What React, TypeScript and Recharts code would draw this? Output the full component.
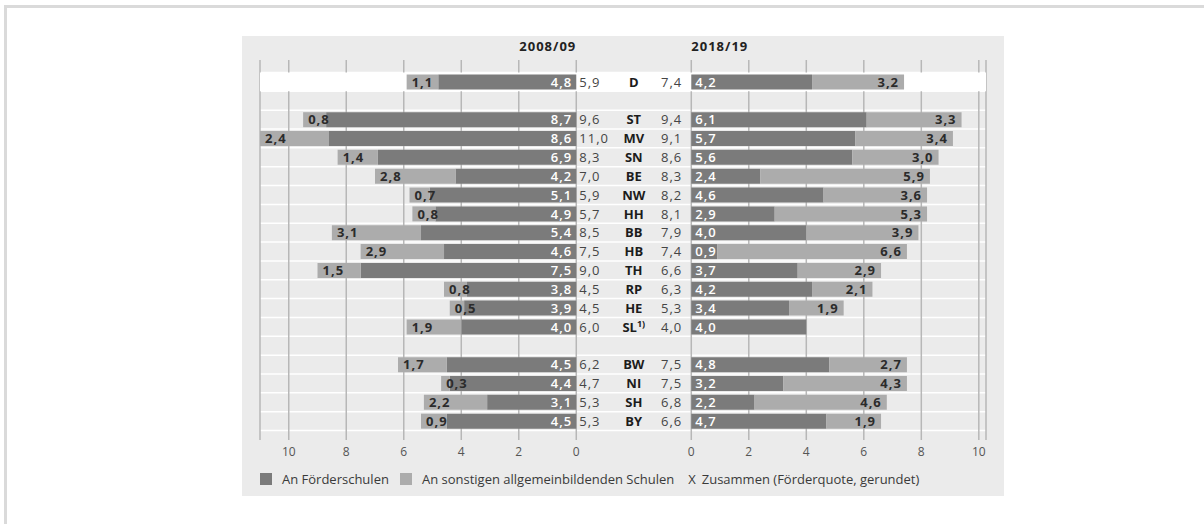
import { BarChart, Bar, XAxis, YAxis, CartesianGrid, ReferenceArea, LabelList, Legend } from 'recharts';

const FONT = '"Open Sans", "Noto Sans", sans-serif';

// Förderquote je Land, in Prozent
const codes = ['D', '', 'ST', 'MV', 'SN', 'BE', 'NW', 'HH', 'BB', 'HB', 'TH', 'RP', 'HE', 'SL', '', 'BW', 'NI', 'SH', 'BY'];

// 2008/09
const foerder0809 = [4.8, null, 8.7, 8.6, 6.9, 4.2, 5.1, 4.9, 5.4, 4.6, 7.5, 3.8, 3.9, 4.0, null, 4.5, 4.4, 3.1, 4.5];
const sonstige0809 = [1.1, null, 0.8, 2.4, 1.4, 2.8, 0.7, 0.8, 3.1, 2.9, 1.5, 0.8, 0.5, 1.9, null, 1.7, 0.3, 2.2, 0.9];
const quote0809 = [5.9, null, 9.6, 11.0, 8.3, 7.0, 5.9, 5.7, 8.5, 7.5, 9.0, 4.5, 4.5, 6.0, null, 6.2, 4.7, 5.3, 5.3];

// 2018/19
const foerder1819 = [4.2, null, 6.1, 5.7, 5.6, 2.4, 4.6, 2.9, 4.0, 0.9, 3.7, 4.2, 3.4, 4.0, null, 4.8, 3.2, 2.2, 4.7];
const sonstige1819 = [3.2, null, 3.3, 3.4, 3.0, 5.9, 3.6, 5.3, 3.9, 6.6, 2.9, 2.1, 1.9, 0, null, 2.7, 4.3, 4.6, 1.9];
const quote1819 = [7.4, null, 9.4, 9.1, 8.6, 8.3, 8.2, 8.1, 7.9, 7.4, 6.6, 6.3, 5.3, 4.0, null, 7.5, 7.5, 6.8, 6.6];

const years = ['2008/09', '2018/19'];
const scaleTicks = [10, 8, 6, 4, 2, 0];
const legendItems = ['An Förderschulen', 'An sonstigen allgemeinbildenden Schulen', 'Zusammen (Förderquote, gerundet)'];

// both halves share one axis: 2008/09 runs left from 0, 2018/19 starts at GAP
const GAP = 4;
const DOMAIN: [number, number] = [-11, GAP + 10.25];
const PAD_TOP = 12.5;
const PAD_BOTTOM = 9.5;

const DARK = '#7b7b7b';
const LIGHT = '#acacac';
const PANEL = '#ebebeb';

const rows = codes.map((code, i) => ({
  key: code || `leer${i}`,
  code,
  mid: code ? GAP : null,
  fR: foerder1819[i],
  sR: sonstige1819[i],
  fL: foerder0809[i] == null ? null : -(foerder0809[i] as number),
  sL: sonstige0809[i] == null ? null : -(sonstige0809[i] as number),
  qL: quote0809[i],
  qR: quote1819[i],
}));
const byKey = new Map(rows.map((r) => [r.key, r]));

const axisTicks = [...scaleTicks.map((v) => -v), ...[...scaleTicks].reverse().map((v) => GAP + v)];
const tickText = (u: number) => String(u <= 0 ? -u : u - GAP);

const fmt = (v: number) => Math.abs(v).toFixed(1).replace('.', ',');

const numStyle = { fontFamily: FONT, fontSize: 13, letterSpacing: 1 };

const span = (p: any) => {
  const vb = p.viewBox ?? p;
  const a = Number(vb.x);
  const w = Number(vb.width);
  return { x0: Math.min(a, a + w), x1: Math.max(a, a + w), cy: Number(vb.y) + Number(vb.height) / 2 };
};

// white value next to the zero line, inside the Förderschulen bar
const innerLabel = (side: 'L' | 'R') => (p: any) => {
  if (p.value == null || p.value === 0) return null;
  const { x0, x1, cy } = span(p);
  return (
    <text
      x={side === 'L' ? x1 - 4 : x0 + 4}
      y={cy}
      dy="0.36em"
      textAnchor={side === 'L' ? 'end' : 'start'}
      fill="#fff"
      fontWeight={600}
      style={numStyle}
    >
      {fmt(p.value)}
    </text>
  );
};

// dark value at the outer end of the light bar
const outerLabel = (side: 'L' | 'R') => (p: any) => {
  if (p.value == null || p.value === 0) return null;
  const { x0, x1, cy } = span(p);
  return (
    <text
      x={side === 'L' ? x0 + 5 : x1 - 5}
      y={cy}
      dy="0.36em"
      textAnchor={side === 'L' ? 'start' : 'end'}
      fill="#2b2b2b"
      fontWeight={700}
      style={numStyle}
    >
      {fmt(p.value)}
    </text>
  );
};

// totals and Länder code in the middle column
const middleLabel = (p: any) => {
  const row = byKey.get(p.value);
  if (!row || !row.code) return null;
  const { x0, x1, cy } = span(p);
  return (
    <g>
      <text x={x0 + 3} y={cy} dy="0.36em" fill="#454545" style={numStyle}>
        {fmt(row.qL as number)}
      </text>
      <text
        x={(x0 + x1) / 2}
        y={cy}
        dy="0.36em"
        textAnchor="middle"
        fill="#1c1c1c"
        fontWeight={700}
        style={{ fontFamily: FONT, fontSize: 13 }}
      >
        {row.code}
        {row.code === 'SL' && (
          <tspan fontSize={9} dy="-0.5em">
            1)
          </tspan>
        )}
      </text>
      <text x={x1 - 9} y={cy} dy="0.36em" textAnchor="end" fill="#454545" style={numStyle}>
        {fmt(row.qR as number)}
      </text>
    </g>
  );
};

const HeadTick = (p: any) => {
  const first = p.payload.value <= 0;
  return (
    <text
      x={p.x}
      y={p.y}
      textAnchor={first ? 'end' : 'start'}
      fill="#222"
      fontWeight={700}
      style={{ fontFamily: FONT, fontSize: 13, letterSpacing: 1 }}
    >
      {first ? years[0] : years[1]}
    </text>
  );
};

const rowLines = ({ offset }: any) => {
  const top = offset.top + PAD_TOP;
  const h = (offset.height - PAD_TOP - PAD_BOTTOM) / codes.length;
  return Array.from({ length: codes.length + 1 }, (_, i) => top + i * h);
};

const Swatch = ({ color }: { color: string }) => (
  <span style={{ display: 'inline-block', width: 12, height: 12, background: color, marginRight: 10 }} />
);

const LegendBox = () => (
  <div
    style={{
      display: 'flex',
      alignItems: 'center',
      height: 20,
      fontFamily: FONT,
      fontSize: 13,
      color: '#3a3a3a',
      whiteSpace: 'nowrap',
    }}
  >
    <Swatch color={DARK} />
    <span style={{ marginRight: 11 }}>{legendItems[0]}</span>
    <Swatch color={LIGHT} />
    <span style={{ marginRight: 14 }}>{legendItems[1]}</span>
    <span style={{ marginRight: 6 }}>X</span>
    <span>{legendItems[2]}</span>
  </div>
);

export default function App() {
  return (
    <div style={{ position: 'absolute', left: 0, top: 0, width: 1204, height: 524, background: '#fff', overflow: 'hidden' }}>
      <div
        style={{
          position: 'absolute',
          left: 4,
          top: 5,
          width: 1300,
          height: 600,
          borderTop: '3px solid #dadada',
          borderLeft: '3px solid #dadada',
        }}
      />
      <div style={{ position: 'absolute', left: 242, top: 36, width: 762, height: 460, background: PANEL }}>
        <BarChart
          width={762}
          height={460}
          data={rows}
          layout="vertical"
          stackOffset="sign"
          barSize={15}
          margin={{ top: 0, right: 18, bottom: 7, left: 18 }}
        >
          <CartesianGrid
            stroke="#b7b7b7"
            strokeWidth={1.5}
            horizontalCoordinatesGenerator={rowLines}
            horizontal={(p: any) => (
              <line key={p.key} x1={p.x1} y1={p.y1} x2={p.x2} y2={p.y2} stroke="#fff" strokeWidth={1.5} />
            )}
          />
          <ReferenceArea y1="D" y2="D" fill="#fff" fillOpacity={1} stroke="none" ifOverflow="visible" />
          <XAxis
            xAxisId="head"
            orientation="top"
            type="number"
            domain={DOMAIN}
            allowDataOverflow
            ticks={[0, GAP]}
            interval={0}
            height={24}
            axisLine={false}
            tickLine={false}
            tickSize={0}
            tickMargin={9}
            tick={<HeadTick />}
          />
          <XAxis
            type="number"
            domain={DOMAIN}
            allowDataOverflow
            ticks={axisTicks}
            interval={0}
            tickFormatter={tickText}
            height={29}
            axisLine={false}
            tickLine={false}
            tickSize={0}
            tickMargin={7}
            tick={{ fill: '#555', fontSize: 12, fontFamily: FONT }}
          />
          <YAxis type="category" dataKey="key" hide padding={{ top: PAD_TOP, bottom: PAD_BOTTOM }} />
          <Bar dataKey="mid" stackId="s" fill={PANEL} fillOpacity={0} isAnimationActive={false}>
            <LabelList dataKey="key" content={middleLabel} />
          </Bar>
          <Bar dataKey="fR" stackId="s" fill={DARK} isAnimationActive={false}>
            <LabelList dataKey="fR" content={innerLabel('R')} />
          </Bar>
          <Bar dataKey="sR" stackId="s" fill={LIGHT} isAnimationActive={false}>
            <LabelList dataKey="sR" content={outerLabel('R')} />
          </Bar>
          <Bar dataKey="fL" stackId="s" fill={DARK} isAnimationActive={false}>
            <LabelList dataKey="fL" content={innerLabel('L')} />
          </Bar>
          <Bar dataKey="sL" stackId="s" fill={LIGHT} isAnimationActive={false}>
            <LabelList dataKey="sL" content={outerLabel('L')} />
          </Bar>
          <Legend verticalAlign="bottom" align="left" height={20} content={<LegendBox />} />
        </BarChart>
      </div>
    </div>
  );
}
